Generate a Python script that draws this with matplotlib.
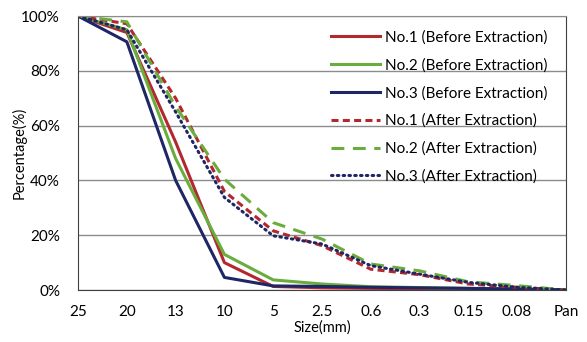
import matplotlib.pyplot as plt

plt.rcParams['font.family'] = ['Lato', 'DejaVu Sans']

# Data
sizes = ['25', '20', '13', '10', '5', '2.5', '0.6', '0.3', '0.15', '0.08', 'Pan']
no1_before = [100, 94, 54, 10, 1.3, 0.8, 0.6, 0.5, 0.4, 0.3, 0]
no2_before = [100, 95, 48, 13, 3.7, 2.2, 1.2, 0.9, 0.6, 0.3, 0]
no3_before = [100, 90.6, 40, 4.6, 1.5, 1.3, 1.0, 0.8, 0.6, 0.4, 0]
no1_after = [100, 97.2, 70, 36, 21.6, 16.2, 7.6, 5.6, 2.2, 1.0, 0]
no2_after = [100, 97.9, 67, 40.5, 24.6, 18.6, 9.5, 7.0, 3.0, 1.6, 0]
no3_after = [100, 95, 65, 33.8, 19.8, 16.8, 8.9, 5.8, 2.8, 1.0, 0]

red = '#B3282E'
green = '#6AAD3D'
navy = '#1E2665'

fig = plt.figure(figsize=(5.87, 3.42), dpi=100)
ax = fig.add_axes([0.133, 0.152, 0.831, 0.801])

x = range(len(sizes))
lw = 2.2
ax.plot(x, no1_before, color=red, lw=lw, label='No.1 (Before Extraction)')
ax.plot(x, no2_before, color=green, lw=lw, label='No.2 (Before Extraction)')
ax.plot(x, no3_before, color=navy, lw=lw, label='No.3 (Before Extraction)')
ax.plot(x, no1_after, color=red, lw=lw, linestyle=(0, (2.3, 1.4)), label='No.1 (After Extraction)')
ax.plot(x, no2_after, color=green, lw=lw, linestyle=(0, (4.2, 2.8)), label='No.2 (After Extraction)')
ax.plot(x, no3_after, color=navy, lw=lw, linestyle=(0, (0.5, 1.4)), dash_capstyle='round',
        label='No.3 (After Extraction)')

ax.set_xlim(0, len(sizes) - 1)
ax.set_ylim(0, 100)
ax.set_xticks(list(x))
ax.set_xticklabels(sizes)
ax.set_yticks([0, 20, 40, 60, 80, 100])
ax.set_yticklabels(['0%', '20%', '40%', '60%', '80%', '100%'])
ax.tick_params(length=0, labelsize=11)
ax.tick_params(axis='x', pad=11)
ax.tick_params(axis='y', pad=13)
ax.yaxis.grid(True, color='#8C8C8C', lw=1)
ax.set_axisbelow(True)
for s in ax.spines.values():
    s.set_color('#8C8C8C')
ax.spines['left'].set_color('#404040')
ax.spines['bottom'].set_color('#404040')
ax.spines['right'].set_color('#404040')

ax.set_xlabel('Size(mm)', fontsize=10.5, labelpad=1)
ax.set_ylabel('Percentage(%)', fontsize=10.5)
ax.yaxis.set_label_coords(-0.105, 0.5)

ax.legend(loc='upper right', frameon=False, fontsize=11, handlelength=3.2,
          labelspacing=0.88, bbox_to_anchor=(0.99, 0.998), handletextpad=0.3)

plt.savefig('out.png', dpi=100)
